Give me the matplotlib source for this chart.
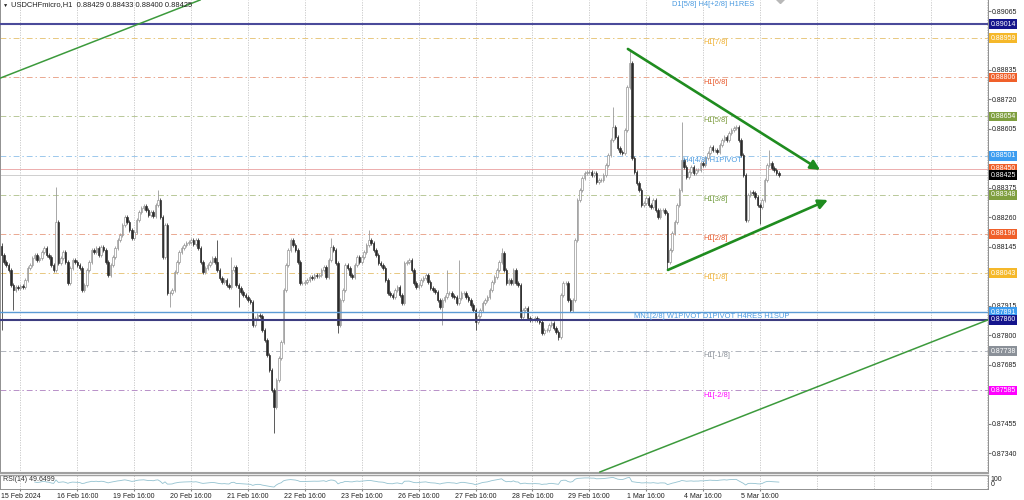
import numpy as np
import matplotlib
matplotlib.use('Agg')
import matplotlib.pyplot as plt
import matplotlib.transforms as mtransforms

plt.rcParams['font.family'] = ['Liberation Sans', 'DejaVu Sans']

# ---- data -------------------------------------------------------------
# H1 closes, in points above 0.87000 (one row = one trading day, 24 bars)
close_pts = [
    1114, 1086, 1075, 1055, 997, 977, 989, 985, 993, 989, 1016, 1063, 1075, 1102, 1114, 1094, 1102, 1125, 1141, 1114, 1106, 1075, 1055, 1242,
    1082, 1102, 1125, 1086, 1004, 1063, 1094, 1086, 1075, 1063, 977, 997, 1055, 1086, 1133, 1125, 1141, 1114, 1145, 1133, 1086, 1036, 1075, 1106,
    1141, 1172, 1192, 1231, 1262, 1242, 1211, 1180, 1203, 1250, 1281, 1297, 1305, 1289, 1270, 1281, 1266, 1309, 1328, 1262, 1106, 1231, 965, 965,
    977, 1047, 1086, 1125, 1141, 1153, 1160, 1164, 1172, 1156, 1172, 1141, 1086, 1047, 1063, 1075, 1086, 1102, 1086, 1055, 1024, 1008, 1016, 997,
    989, 1055, 1067, 997, 985, 969, 958, 950, 938, 930, 841, 868, 880, 876, 821, 782, 724, 665, 587, 521, 626, 712, 774, 977,
    1075, 1133, 1172, 1153, 1133, 1086, 1004, 1004, 1008, 1016, 1028, 1024, 1036, 1032, 1036, 1055, 1067, 1028, 1094, 1145, 1133, 1082, 841, 938,
    977, 1075, 1063, 1036, 1028, 1075, 1106, 1086, 1106, 1125, 1153, 1172, 1160, 1133, 1114, 1082, 1075, 1063, 1016, 965, 958, 950, 977, 989,
    958, 926, 1082, 1086, 1094, 1055, 1004, 989, 997, 1016, 1024, 1036, 1008, 985, 977, 969, 938, 911, 938, 950, 965, 965, 954, 950,
    926, 946, 965, 965, 950, 938, 919, 899, 852, 876, 899, 926, 938, 950, 977, 1008, 1028, 1055, 1086, 1121, 1055, 1004, 1016, 1004,
    1055, 1004, 997, 872, 899, 907, 868, 860, 860, 868, 860, 852, 809, 821, 821, 841, 848, 829, 813, 794, 958, 1004, 1004, 938,
    899, 938, 1172, 1328, 1367, 1414, 1433, 1437, 1437, 1425, 1433, 1398, 1406, 1406, 1425, 1465, 1504, 1562, 1613, 1574, 1531, 1515, 1511, 1601,
    1769, 1862, 1492, 1437, 1394, 1367, 1309, 1316, 1336, 1309, 1301, 1328, 1289, 1262, 1289, 1289, 1277, 1086, 1133, 1199, 1242, 1309, 1367, 1484,
    1457, 1418, 1437, 1457, 1433, 1445, 1445, 1472, 1465, 1492, 1511, 1535, 1523, 1523, 1515, 1543, 1562, 1574, 1562, 1589, 1601, 1609, 1613, 1562,
    1504, 1425, 1250, 1348, 1359, 1355, 1340, 1309, 1301, 1328, 1406, 1465, 1472, 1453, 1445, 1433, 1425,
]
first_open_pts = 1150
# long wicks that stand out (bar index -> points above 0.87000)
wick_high_pts = {0: 1160, 23: 1379, 66: 1367, 91: 1172, 97: 1106, 139: 1180, 155: 1211,
                 188: 1055, 193: 1094, 211: 1141, 258: 1691, 265: 1913, 287: 1632, 324: 1523}
wick_low_pts = {0: 821, 5: 899, 71: 911, 100: 911, 115: 419, 142: 809, 186: 841,
                200: 821, 235: 782, 281: 1055, 320: 1236}

date_labels = ['15 Feb 2024', '16 Feb 16:00', '19 Feb 16:00', '20 Feb 16:00', '21 Feb 16:00',
               '22 Feb 16:00', '23 Feb 16:00', '26 Feb 16:00', '27 Feb 16:00', '28 Feb 16:00',
               '29 Feb 16:00', '1 Mar 16:00', '4 Mar 16:00', '5 Mar 16:00']
price_ticks = [0.89065, 0.88835, 0.88720, 0.88605, 0.88375, 0.88260, 0.88145,
               0.87915, 0.87800, 0.87685, 0.87455, 0.87340]

# horizontal levels: price, text in chart, line colour, box colour
level_prices = [0.89014, 0.88959, 0.88806, 0.88654, 0.88501, 0.88450, 0.88425,
                0.88348, 0.88196, 0.88043, 0.87891, 0.87860, 0.87738, 0.87585]
level_texts = ['', 'H1[7/8]', 'H1[6/8]', 'H1[5/8]', 'H4[4/8] H1PIVOT', '', '',
               'H1[3/8]', 'H1[2/8]', 'H1[1/8]', 'MN1[2/8] W1PIVOT D1PIVOT H4RES H1SUP', '',
               'H1[-1/8]', 'H1[-2/8]']
level_text_bar = [0, 296, 296, 296, 287.5, 0, 0, 296, 296, 296, 267, 0, 296, 296]
level_text_color = ['', '#f0b030', '#e8582a', '#7a9a3a', '#4a9ae0', '', '', '#6e9a3a',
                    '#e8582a', '#f0b030', '#4a9ae0', '', '#8a9098', '#ff00ff']
level_line_color = ['#4a4a9a', '#e8c880', '#eaa890', '#b8c898', '#9cc8ec', '#eaa0a0', '#c8c8c8',
                    '#b8c898', '#eaa890', '#e8c880', '#5b9bd5', '#3d3d80', '#b0b4bc', '#b890c8']
level_box_color = ['#14148c', '#f5b82a', '#f0602a', '#7f9f3f', '#3d9df0', '#f0602a', '#000000',
                   '#7f9f3f', '#f0602a', '#f5b82a', '#3d9df0', '#14148c', '#8a9098', '#ff00ff']

# trend lines: (bar, price) start and end
tri_upper = [(264.3, 0.88917), (345.4, 0.88445)]
tri_lower = [(281.2, 0.88055), (348.7, 0.88328)]
long_upper = [(-0.63, 0.88803), (83.8, 0.89108)]
long_lower = [(252.5, 0.87267), (416.2, 0.87860)]

rsi_value_text = 'RSI(14) 49.6499'
header = 'USDCHFmicro,H1  0.88429 0.88433 0.88400 0.88425'

# ---- prepare ----------------------------------------------------------
BASE = 0.87
c = BASE + np.array(close_pts) / 1e5
n = len(c)
idx = np.arange(n)
o = np.empty(n)
o[0] = BASE + first_open_pts / 1e5
o[1:] = c[:-1]
WICK = 0.00008
hi = np.maximum(o, c) + WICK
lo = np.minimum(o, c) - WICK
for k, v in wick_high_pts.items():
    hi[k] = max(hi[k], BASE + v / 1e5)
for k, v in wick_low_pts.items():
    lo[k] = min(lo[k], BASE + v / 1e5)


def wilder_rsi(series, period=14):
    d = np.diff(series)
    gain = np.clip(d, 0, None)
    loss = np.clip(-d, 0, None)
    ag = np.full(len(series), np.nan)
    al = np.full(len(series), np.nan)
    ag[period] = gain[:period].mean()
    al[period] = loss[:period].mean()
    for t in range(period + 1, len(series)):
        ag[t] = (ag[t - 1] * (period - 1) + gain[t - 1]) / period
        al[t] = (al[t - 1] * (period - 1) + loss[t - 1]) / period
    return 100 - 100 / (1 + ag / al)


rsi = wilder_rsi(c)

# ---- figure -----------------------------------------------------------
W, H = 1024, 500
FS = 5.0
fig = plt.figure(figsize=(W / 100, H / 100), dpi=100)
fig.patch.set_facecolor('white')
ax = fig.add_axes([0, (H - 473) / H, 988 / W, 473 / H])
rax = fig.add_axes([0, (H - 489) / H, 988 / W, 14 / H])

XMIN, XMAX = -1.5 / 2.37, (988 - 1.5) / 2.37
ax.set_xlim(XMIN, XMAX)
rax.set_xlim(XMIN, XMAX)
ax.set_ylim(0.87263, 0.89108)
rax.set_ylim(0, 100)

grid_bars = [8 + 24 * k for k in range(18)]
for a in (ax, rax):
    for g in grid_bars:
        a.axvline(g, color='#c4c4c4', lw=0.6, ls=(0, (1.5, 1.5)), zorder=0)

# levels
for p, col in zip(level_prices, level_line_color):
    if p in (0.89014, 0.87860):
        ax.axhline(p, color=col, lw=1.5, zorder=3)
    elif p == 0.87891:
        ax.axhline(p, color=col, lw=1.0, zorder=3)
    elif p in (0.88450, 0.88425):
        ax.axhline(p, color=col, lw=0.6, zorder=1)
    else:
        ax.axhline(p, color=col, lw=0.7, ls=(0, (6, 3, 1.5, 3)), zorder=1)

# candles
up = c >= o
ax.vlines(idx[up], lo[up], hi[up], color='#9a9a9a', lw=0.6, zorder=2)
ax.vlines(idx[~up], lo[~up], hi[~up], color='#404040', lw=0.6, zorder=2)
ax.bar(idx[up], (c - o)[up], bottom=o[up], width=0.65, color='white',
       edgecolor='#8a8a8a', lw=0.45, zorder=2.5)
ax.bar(idx[~up], (c - o)[~up], bottom=o[~up], width=0.65, color='#2a2a2a',
       edgecolor='#2a2a2a', lw=0.45, zorder=2.5)

# level texts in chart
for p, t, xb, col in zip(level_prices, level_texts, level_text_bar, level_text_color):
    if t:
        ax.annotate(t, xy=(xb, p), xytext=(0, -3.3), textcoords='offset points',
                    ha='left', va='center', fontsize=5.4, color=col, zorder=6)
ax.text(282.9, 0.89090, 'D1[5/8] H4[+2/8] H1RES', ha='left', va='center',
        fontsize=5.4, color='#4a9ae0', zorder=6)
ax.plot([328.5], [0.89110], marker='D', ms=4, color='#b8b8b8', clip_on=False, zorder=6)

# trend lines
green = '#1f8c1f'
for seg in (tri_upper, tri_lower):
    ax.annotate('', xy=seg[1], xytext=seg[0],
                arrowprops=dict(arrowstyle='-|>,head_length=0.7,head_width=0.35',
                                color=green, lw=1.9, mutation_scale=8,
                                shrinkA=0, shrinkB=0), zorder=7)
for seg in (long_upper, long_lower):
    ax.plot([seg[0][0], seg[1][0]], [seg[0][1], seg[1][1]], color='#3c9a3c', lw=1.1, zorder=7)

# right price scale
ax.yaxis.tick_right()
ax.set_yticks(price_ticks)
ax.set_yticklabels(['%.5f' % t for t in price_ticks])
ax.tick_params(axis='y', labelsize=FS, length=2, pad=1.0, color='#808080', labelcolor='#202020')
ax.tick_params(axis='x', bottom=False, labelbottom=False)
blend = mtransforms.blended_transform_factory(ax.transAxes, ax.transData)
for p, bc in zip(level_prices, level_box_color):
    ax.text(1.0025, p, '%.5f' % p, transform=blend, ha='left', va='center', fontsize=FS,
            color='white', clip_on=False, zorder=10,
            bbox=dict(boxstyle='square,pad=0.2', fc=bc, ec='none'))

# spines
for a in (ax, rax):
    for s in a.spines.values():
        s.set_color('#909090')
        s.set_linewidth(0.7)
ax.spines['top'].set_visible(False)
ax.spines['bottom'].set_color('#a0a0a0')
ax.spines['bottom'].set_linewidth(1.5)
rax.spines['top'].set_color('#a0a0a0')
rax.spines['top'].set_linewidth(1.0)

# RSI panel
rax.plot(idx, rsi, color='#94c2d0', lw=0.6)
rax.set_yticks([])
rax.text(0.003, 0.66, rsi_value_text, transform=rax.transAxes, ha='left', va='center',
         fontsize=FS, color='#303030')
rax.text(1.0025, 0.68, '100', transform=rax.transAxes, ha='left', va='center',
         fontsize=FS, color='#202020', clip_on=False)
rax.text(1.0025, 0.30, '0', transform=rax.transAxes, ha='left', va='center',
         fontsize=FS, color='#202020', clip_on=False)
rax.set_xticks(grid_bars[:len(date_labels)])
rax.set_xticklabels(date_labels)
rax.tick_params(axis='x', labelsize=FS, length=1.5, pad=1.2, color='#808080', labelcolor='#202020')

# header
fig.text(3 / W, 1 - 5 / H, '\u25bc', fontsize=3.8, ha='left', va='center', color='#202020')
fig.text(11 / W, 1 - 5 / H, header, fontsize=5.4, ha='left', va='center', color='#202020')

fig.savefig('out.png', dpi=100, facecolor='white')
